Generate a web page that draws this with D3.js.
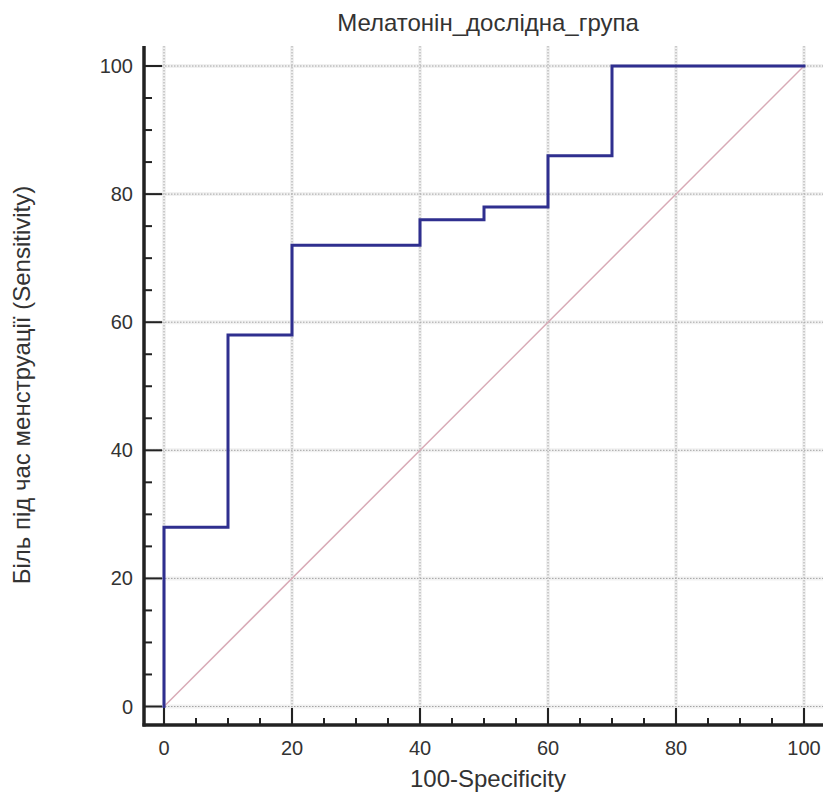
<!DOCTYPE html>
<html>
<head>
<meta charset="utf-8">
<script src="https://cdn.jsdelivr.net/npm/d3@7/dist/d3.min.js"></script>
<style>
  html, body { margin: 0; padding: 0; background: #fff; }
  svg { display: block; }
  text { font-family: "Liberation Sans", Arial, sans-serif; fill: #333; }
</style>
</head>
<body>
<script>
// ROC curve: 100-Specificity (x) vs Sensitivity (y)
const rocX = [0, 0, 10, 10, 20, 20, 40, 40, 50, 50, 60, 60, 70, 70, 100];
const rocY = [0, 28, 28, 58, 58, 72, 72, 76, 76, 78, 78, 86, 86, 100, 100];
const majorTicks = [0, 20, 40, 60, 80, 100];
const minorTicks = d3.range(0, 101, 5).filter(v => v % 20 !== 0);

const chartTitle = "Мелатонін_дослідна_група";
const xTitle = "100-Specificity";
const yTitle = "Біль під час менструації (Sensitivity)";

const W = 823, H = 796;
const svg = d3.select("body").append("svg").attr("width", W).attr("height", H);

// axis lines sit slightly outside the 0..100 range
const x = d3.scaleLinear().domain([0, 100]).range([164, 804]);
const y = d3.scaleLinear().domain([0, 100]).range([706.5, 66]);
const xMin = 144, xMax = 823, yTop = 46, yBot = 725;

// soft background bands under the grid
const bands = svg.append("g").attr("stroke", "#f1f1f1").attr("stroke-width", 4);
majorTicks.forEach(v => {
  bands.append("line").attr("x1", x(v)).attr("x2", x(v)).attr("y1", yTop).attr("y2", yBot);
  bands.append("line").attr("x1", xMin).attr("x2", xMax).attr("y1", y(v)).attr("y2", y(v));
});

// dotted grid
const grid = svg.append("g").attr("stroke", "#a4a4a4").attr("stroke-width", 1)
  .attr("stroke-dasharray", "1.5,1.5");
majorTicks.forEach(v => {
  grid.append("line").attr("x1", x(v)).attr("x2", x(v)).attr("y1", yTop).attr("y2", yBot);
  grid.append("line").attr("x1", xMin).attr("x2", xMax).attr("y1", y(v)).attr("y2", y(v));
});

// reference diagonal
svg.append("line")
  .attr("x1", x(0)).attr("y1", y(0)).attr("x2", x(100)).attr("y2", y(100))
  .attr("stroke", "#d8aab6").attr("stroke-width", 1.5);

// ROC step line
const pts = rocX.map((v, i) => [v, rocY[i]]);
svg.append("path")
  .datum(pts)
  .attr("d", d3.line().x(d => x(d[0])).y(d => y(d[1])))
  .attr("fill", "none").attr("stroke", "#2f2f8f").attr("stroke-width", 3)
  .attr("stroke-linejoin", "miter").attr("stroke-linecap", "square");

// axes
const ax = svg.append("g").attr("stroke", "#222");
ax.append("line").attr("x1", xMin).attr("x2", xMin).attr("y1", yTop).attr("y2", yBot + 1.5)
  .attr("stroke-width", 3.5);
ax.append("line").attr("x1", xMin - 1.5).attr("x2", xMax).attr("y1", yBot).attr("y2", yBot)
  .attr("stroke-width", 3.5);

// ticks pointing inwards
majorTicks.forEach(v => {
  ax.append("line").attr("x1", xMin).attr("x2", xMin + 18).attr("y1", y(v)).attr("y2", y(v)).attr("stroke-width", 2);
  ax.append("line").attr("x1", x(v)).attr("x2", x(v)).attr("y1", yBot).attr("y2", yBot - 17).attr("stroke-width", 2);
});
minorTicks.forEach(v => {
  ax.append("line").attr("x1", xMin).attr("x2", xMin + 8).attr("y1", y(v)).attr("y2", y(v)).attr("stroke-width", 2);
  ax.append("line").attr("x1", x(v)).attr("x2", x(v)).attr("y1", yBot).attr("y2", yBot - 7).attr("stroke-width", 2);
});

// tick labels
svg.append("g").selectAll("text").data(majorTicks).join("text")
  .attr("x", 133).attr("y", d => y(d)).attr("dy", "0.35em")
  .attr("text-anchor", "end").attr("font-size", 20).text(d => d);
svg.append("g").selectAll("text").data(majorTicks).join("text")
  .attr("x", d => x(d)).attr("y", 755)
  .attr("text-anchor", "middle").attr("font-size", 20).text(d => d);

// titles
svg.append("text").attr("x", 488).attr("y", 31).attr("text-anchor", "middle")
  .attr("font-size", 24).text(chartTitle);
svg.append("text").attr("x", 488).attr("y", 787).attr("text-anchor", "middle")
  .attr("font-size", 24).text(xTitle);
svg.append("text").attr("transform", "translate(30,385) rotate(-90)")
  .attr("text-anchor", "middle").attr("font-size", 24).text(yTitle);
</script>
</body>
</html>
